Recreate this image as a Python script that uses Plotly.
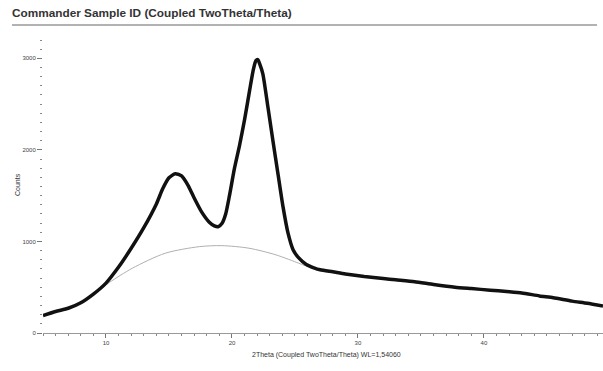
import plotly.graph_objects as go

two_theta = [5.0, 6.0, 7.0, 8.0, 9.0, 10.0, 11.0, 12.0, 13.0, 14.0, 14.5, 15.0, 15.5, 16.0,
             16.5, 17.0, 17.6, 18.2, 18.6, 18.9, 19.2, 19.5, 19.8, 20.2, 20.6, 21.0, 21.4,
             21.7, 21.9, 22.05, 22.2, 22.45, 22.85, 23.25, 23.65, 24.05, 24.45, 24.85, 25.3,
             25.9, 26.5, 27.0, 28.0, 29.0, 30.5, 32.0, 33.0, 34.5, 36.0, 37.7, 39.0, 40.5,
             41.8, 43.0, 44.4, 45.5, 47.0, 48.2, 49.45]
counts = [190, 235, 270, 330, 425, 545, 720, 925, 1150, 1410, 1575, 1695, 1740, 1715,
          1615, 1475, 1320, 1210, 1170, 1160, 1195, 1300, 1500, 1800, 2050, 2330, 2650,
          2880, 2975, 2985, 2940, 2830, 2470, 2100, 1740, 1380, 1090, 910, 820,
          748, 712, 690, 668, 645, 617, 595, 581, 560, 530, 500, 485, 468,
          453, 438, 405, 385, 348, 325, 295]

# Amorphous background curve
bg_theta = [9.8, 10.3, 12.1, 14.7, 17.4, 19.2, 21.35, 23.5, 25.3, 25.8]
bg_counts = [505, 555, 708, 871, 943, 954, 926, 853, 762, 735]

title_text = "Commander Sample ID (Coupled TwoTheta/Theta)"
x_title = "2Theta (Coupled TwoTheta/Theta) WL=1,54060"
y_title = "Counts"

FONT = "Liberation Sans, Arial, sans-serif"
L, R, T, B = 43, 0, 40, 38
W, H = 603, 371
pw = W - L - R
ph = H - T - B

fig = go.Figure()
fig.add_trace(go.Scatter(x=bg_theta, y=bg_counts, mode="lines",
                         line=dict(color="#b0b0b0", width=1, shape="spline", smoothing=0.8),
                         hoverinfo="skip", showlegend=False))
fig.add_trace(go.Scatter(x=two_theta, y=counts, mode="lines",
                         line=dict(color="#111111", width=3.5, shape="spline", smoothing=0.6),
                         showlegend=False))

fig.update_layout(
    width=W, height=H,
    margin=dict(l=L, r=R, t=T, b=B),
    paper_bgcolor="white", plot_bgcolor="white",
    font=dict(family=FONT, color="#333333"),
    title=dict(text="<b>" + title_text + "</b>", x=12 / W, xanchor="left",
               y=1 - 13 / H, yanchor="middle", pad=dict(l=0, r=0, t=0, b=0),
               font=dict(family=FONT, size=11.8, color="#333333")),
    xaxis=dict(range=[5, 49.45], showgrid=False, zeroline=False,
               showline=True, linecolor="#999999", linewidth=1,
               ticks="outside", ticklen=4, tickcolor="#777777", dtick=10, tick0=0,
               tickfont=dict(size=6, color="#444444"),
               minor=dict(ticks="outside", ticklen=2, dtick=1, tickcolor="#888888")),
    yaxis=dict(range=[0, 3200], showgrid=False, zeroline=False, showline=False,
               ticks="outside", ticklen=5, tickcolor="#777777", dtick=1000, tick0=0,
               tickfont=dict(size=6, color="#444444"),
               minor=dict(ticks="outside", ticklen=2, dtick=100, tickcolor="#888888")),
    shapes=[dict(type="line", xref="paper", yref="paper",
                 x0=(12 - L) / pw, x1=(597 - L) / pw,
                 y0=(H - B - 25) / ph, y1=(H - B - 25) / ph,
                 line=dict(color="#999999", width=1.5))],
    annotations=[
        dict(text=y_title, xref="paper", yref="paper", x=(17 - L) / pw, y=(H - B - 185) / ph,
             textangle=-90, showarrow=False, xanchor="center", yanchor="middle",
             font=dict(size=7, color="#333333")),
        dict(text=x_title, xref="paper", yref="paper", x=(326 - L) / pw, y=(H - B - 355) / ph,
             showarrow=False, xanchor="center", yanchor="middle",
             font=dict(size=7, color="#333333")),
    ],
)

fig.write_html("out.html", config={"displayModeBar": False},
               post_script="document.body.style.margin='0';")
